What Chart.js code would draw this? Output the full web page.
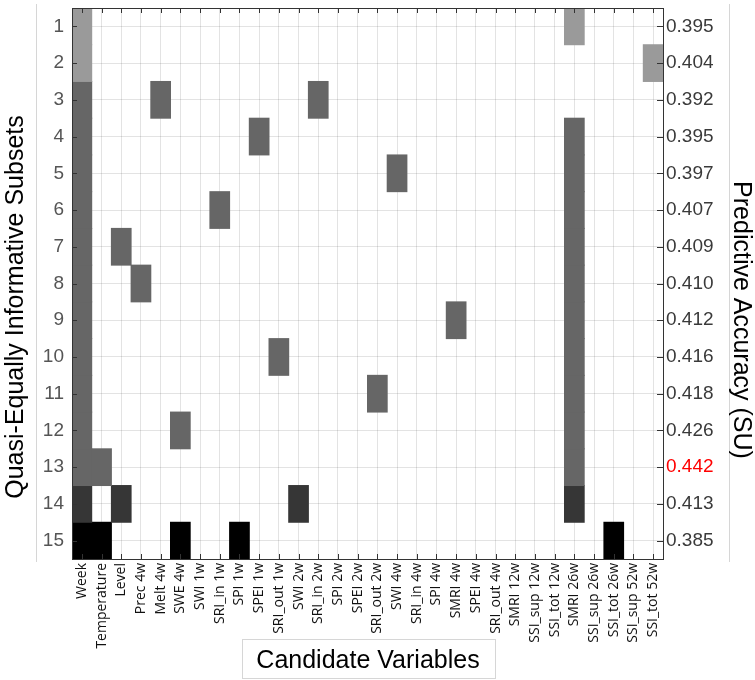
<!DOCTYPE html>
<html>
<head>
<meta charset="utf-8">
<script src="https://cdn.jsdelivr.net/npm/chart.js@4"></script>
<style>
  html, body { margin: 0; padding: 0; background: #fff; }
  #wrap { width: 755px; height: 680px; position: relative; }
</style>
</head>
<body>
<div id="wrap"><canvas id="grafica"></canvas></div>
<script>
// variables candidatas (eje x)
var variables = ['Week', 'Temperature', 'Level', 'Prec 4w', 'Melt 4w', 'SWE 4w',
    'SWI 1w', 'SRI_in 1w', 'SPI 1w', 'SPEI 1w', 'SRI_out 1w', 'SWI 2w', 'SRI_in 2w',
    'SPI 2w', 'SPEI 2w', 'SRI_out 2w', 'SWI 4w', 'SRI_in 4w', 'SPI 4w', 'SMRI 4w',
    'SPEI 4w', 'SRI_out 4w', 'SMRI 12w', 'SSI_sup 12w', 'SSI_tot 12w', 'SMRI 26w',
    'SSI_sup 26w', 'SSI_tot 26w', 'SSI_sup 52w', 'SSI_tot 52w'];

// subconjuntos (eje y izquierdo)
var subsetIds = [1, 2, 3, 4, 5, 6, 7, 8, 9, 10, 11, 12, 13, 14, 15];

var subsets = [
    ['Week', 'SMRI 26w'],
    ['Week', 'SSI_tot 52w'],
    ['Week', 'Melt 4w', 'SRI_in 2w'],
    ['Week', 'SPEI 1w', 'SMRI 26w'],
    ['Week', 'SWI 4w', 'SMRI 26w'],
    ['Week', 'SRI_in 1w', 'SMRI 26w'],
    ['Week', 'Level', 'SMRI 26w'],
    ['Week', 'Prec 4w', 'SMRI 26w'],
    ['Week', 'SMRI 4w', 'SMRI 26w'],
    ['Week', 'SRI_out 1w', 'SMRI 26w'],
    ['Week', 'SRI_out 2w', 'SMRI 26w'],
    ['Week', 'SWE 4w', 'SMRI 26w'],
    ['Week', 'Temperature', 'SMRI 26w'],
    ['Week', 'Level', 'SWI 2w', 'SMRI 26w'],
    ['Week', 'Temperature', 'SWE 4w', 'SPI 1w', 'SSI_tot 26w']
];

// precision (eje y derecho)
var accuracy = [0.395, 0.404, 0.392, 0.395, 0.397, 0.407, 0.409, 0.410, 0.412,
    0.416, 0.418, 0.426, 0.442, 0.413, 0.385];

var best = accuracy.indexOf(Math.max.apply(null, accuracy));

// tono segun cuantas variables tiene el subconjunto
var shade = { 2: '#9a9a9a', 3: '#666666', 4: '#363636', 5: '#000000' };

var gridColor = 'rgba(0,0,0,0.11)';

var datasets = subsets.map(function(vars, i) {
    var row = subsetIds[i];
    return {
        label: 'Subset ' + row,
        data: variables.map(v => vars.indexOf(v) >= 0 ? [row - 0.5, row + 0.5] : null),
        backgroundColor: shade[vars.length],
        borderWidth: 0,
        grouped: false,
        barPercentage: 1,
        categoryPercentage: 1,
        inflateAmount: 0.5
    };
});

function rowTicks(scale) {
    scale.ticks = subsetIds.map(v => ({ value: v }));
}

// ancho fijo y sin relleno extra para los ejes verticales
function fijarAncho(ancho) {
    return function(scale) {
        scale.width = ancho;
        scale.paddingTop = 0;
        scale.paddingBottom = 0;
    };
}

var marco = {
    id: 'marco',
    afterDraw: function(chart) {
        var ctx = chart.ctx;
        var a = chart.chartArea;
        var sx = chart.scales.x, sy = chart.scales.y;
        ctx.save();

        // marcas interiores
        ctx.strokeStyle = '#333';
        ctx.lineWidth = 1;
        ctx.beginPath();
        sx.ticks.forEach(function(t, i) {
            var px = Math.round(sx.getPixelForTick(i)) + 0.5;
            ctx.moveTo(px, a.top); ctx.lineTo(px, a.top + 5);
            ctx.moveTo(px, a.bottom); ctx.lineTo(px, a.bottom - 5);
        });
        sy.ticks.forEach(function(t, i) {
            var py = Math.round(sy.getPixelForTick(i)) + 0.5;
            ctx.moveTo(a.left, py); ctx.lineTo(a.left + 5, py);
            ctx.moveTo(a.right, py); ctx.lineTo(a.right - 6, py);
        });
        ctx.stroke();
        ctx.strokeRect(Math.round(a.left) + 0.5, Math.round(a.top) + 0.5,
            Math.round(a.right - a.left), Math.round(a.bottom - a.top));

        // cajas de texto
        ctx.strokeStyle = '#d6d6d6';
        ctx.beginPath();
        ctx.moveTo(36.5, 4); ctx.lineTo(36.5, 562);
        ctx.moveTo(729.5, 4); ctx.lineTo(729.5, 562);
        ctx.stroke();
        ctx.strokeRect(242.5, 639.5, 253, 39);

        // titulos
        ctx.fillStyle = '#000';
        ctx.font = '25px "Liberation Sans", Arial, sans-serif';
        ctx.textAlign = 'center';
        ctx.textBaseline = 'middle';

        ctx.save();
        ctx.translate(16, 307);
        ctx.rotate(-Math.PI / 2);
        ctx.fillText('Quasi-Equally Informative Subsets', 0, 0);
        ctx.restore();

        ctx.save();
        ctx.translate(741, 320);
        ctx.rotate(Math.PI / 2);
        ctx.fillText('Predictive Accuracy (SU)', 0, 0);
        ctx.restore();

        ctx.fillText('Candidate Variables', 368, 661);
        ctx.restore();
    }
};

var grafica = new Chart(document.getElementById('grafica').getContext('2d'), {
    type: 'bar',
    data: {
        labels: variables,
        datasets: datasets
    },
    options: {
        responsive: true,
        maintainAspectRatio: false,
        animation: false,
        layout: { padding: { top: 8 } },
        plugins: {
            legend: { display: false },
            tooltip: { enabled: false }
        },
        scales: {
            x: {
                z: 1,
                ticks: {
                    autoSkip: false,
                    minRotation: 90,
                    maxRotation: 90,
                    padding: 4,
                    color: '#111',
                    font: { family: 'Open Sans', size: 14 }
                },
                grid: { offset: false, color: gridColor, drawTicks: false },
                border: { display: false },
                afterFit: function(scale) {
                    scale.height = 121;
                    scale.paddingLeft = 0;
                    scale.paddingRight = 0;
                }
            },
            y: {
                z: 1,
                type: 'linear',
                reverse: true,
                min: 0.5,
                max: 15.5,
                afterBuildTicks: rowTicks,
                ticks: {
                    padding: 8,
                    color: '#555',
                    font: { family: 'Liberation Sans', size: 19 }
                },
                grid: { color: gridColor, drawTicks: false },
                border: { display: false },
                afterFit: fijarAncho(72)
            },
            y2: {
                type: 'linear',
                position: 'right',
                reverse: true,
                min: 0.5,
                max: 15.5,
                afterBuildTicks: rowTicks,
                ticks: {
                    padding: 3,
                    callback: function(value) {
                        return accuracy[subsetIds.indexOf(value)].toFixed(3);
                    },
                    color: function(c) { return c.index === best ? '#ff0000' : '#3a3a3a'; },
                    font: { family: 'Liberation Sans', size: 19 }
                },
                grid: { display: false, drawTicks: false },
                border: { display: false },
                afterFit: fijarAncho(92)
            }
        }
    },
    plugins: [marco]
});
</script>
</body>
</html>
